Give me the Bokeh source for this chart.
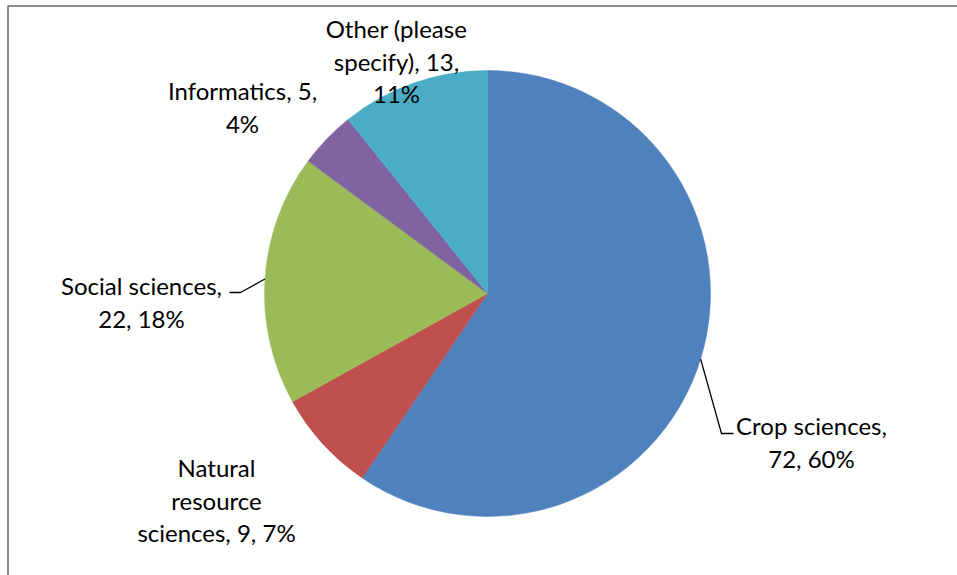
import math
from bokeh.plotting import figure
from bokeh.models import Range1d, ColumnDataSource
from bokeh.core.properties import value
from bokeh.embed import file_html
from bokeh.resources import INLINE

# ---- data ----
categories = ["Crop sciences", "Natural resource sciences", "Social sciences", "Informatics", "Other (please specify)"]
counts = [72, 9, 22, 5, 13]
percents = ["60%", "7%", "18%", "4%", "11%"]
colors = ["#4F81BD", "#C0504D", "#9BBB59", "#8064A2", "#4BACC6"]

# ---- layout (pixel coords, y down) ----
W, H = 957, 575
CX, CY, R = 487, 293, 223
label_lines = [
    ["Crop sciences,", "72, 60%"],
    ["Natural", "resource", "sciences, 9, 7%"],
    ["Social sciences,", "22, 18%"],
    ["Informatics, 5,", "4%"],
    ["Other (please", "specify), 13,", "11%"],
]
label_x = [811, 216, 141, 242, 396]
label_y = [425, 467, 285, 90, 28]
line_gap = 32.5
# leader elbows (None = no leader)
leader_mid = [(721, 433), None, (240, 292), None, None]
leader_end = [(733, 433), None, (229, 292), None, None]
FONT = "Lato"
FSIZE = "24px"

def Y(yp):
    return H - yp

p = figure(width=W, height=H, x_range=Range1d(0, W), y_range=Range1d(0, H),
           output_backend="svg", toolbar_location=None, min_border=0)
p.axis.visible = False
p.grid.visible = False
p.outline_line_color = None
p.background_fill_color = "white"
p.border_fill_color = "white"

total = sum(counts)
starts, ends, mids = [], [], []
cum = 0
for c in counts:
    a0 = math.pi / 2 - 2 * math.pi * cum / total
    cum += c
    a1 = math.pi / 2 - 2 * math.pi * cum / total
    starts.append(a0)
    ends.append(a1)
    mids.append((a0 + a1) / 2)

src = ColumnDataSource(dict(start=starts, end=ends, color=colors))
p.wedge(x=CX, y=Y(CY), radius=R, start_angle="start", end_angle="end",
        direction="clock", fill_color="color", line_color="color", line_width=0.5, source=src)

# leader lines
for i in range(len(counts)):
    if leader_mid[i] is None:
        continue
    x0 = CX + R * math.cos(mids[i])
    y0 = Y(CY) + R * math.sin(mids[i])
    xs = [x0, leader_mid[i][0], leader_end[i][0]]
    ys = [y0, Y(leader_mid[i][1]), Y(leader_end[i][1])]
    p.line(xs, ys, line_color="black", line_width=1.3)

# labels
for i in range(len(counts)):
    for j, t in enumerate(label_lines[i]):
        p.text(x=[label_x[i]], y=[Y(label_y[i] + j * line_gap)], text=[t],
               text_align="center", text_baseline="middle",
               text_font=value(FONT), text_font_size=FSIZE, text_color="black")

# chart-area frame
p.line([7.5, 7.5, W + 5], [Y(H + 5), Y(5.5), Y(5.5)], line_color="#8a8a8a", line_width=2)

html = file_html(p, INLINE)
open("out.html", "w").write(html)
